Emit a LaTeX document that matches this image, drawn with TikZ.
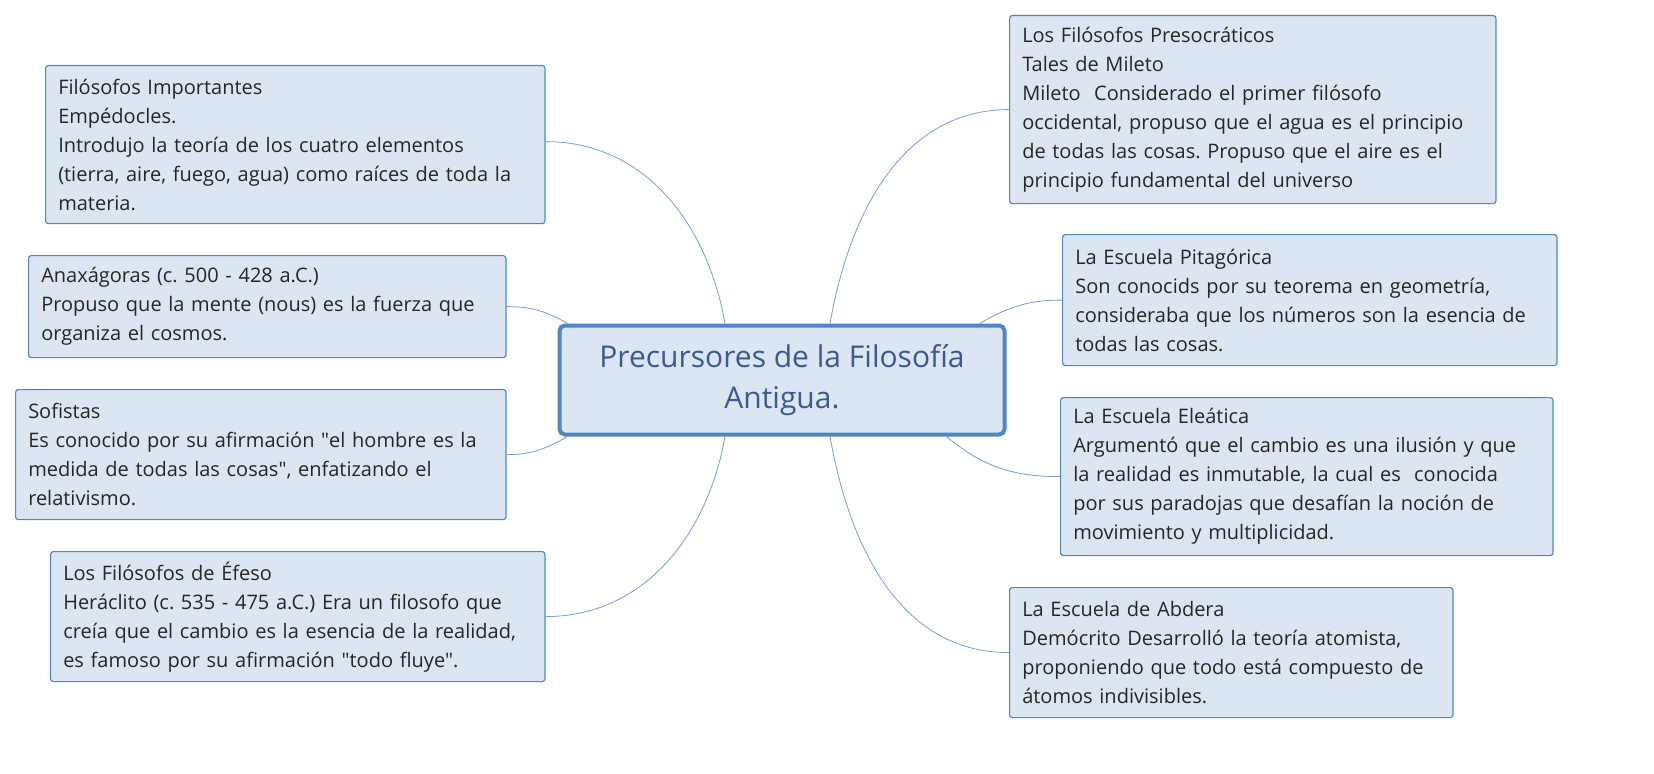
\documentclass[tikz,border=0pt]{standalone}
\usepackage{fontspec}
\setmainfont{Open Sans}
\usetikzlibrary{calc}
\definecolor{bfill}{HTML}{DCE6F2}
\definecolor{bline}{HTML}{4F86C6}
\definecolor{ttl}{HTML}{3B5A93}
\frenchspacing
\newcommand\qq{\textquotedbl}
\begin{document}
\begin{tikzpicture}[x=0.75pt,y=-0.75pt,
  box/.style={draw=bline,fill=bfill,rounded corners=2pt,line width=0.9pt,anchor=north west,
    inner xsep=9.5pt,inner ysep=4pt,align=left,font=\fontsize{15}{21.75}\selectfont,text=black!85},
  link/.style={draw=bline!80,line width=0.6pt}]
\useasboundingbox (0,0) rectangle (1654,774);
\node[box,minimum width=495*0.75pt,minimum height=158*0.75pt,text width=474*0.75pt] (b1) at (45,65)
 {Filósofos Importantes\\Empédocles.\\Introdujo la teoría de los cuatro elementos\\(tierra, aire, fuego, agua) como raíces de toda la\\materia.};
\node[box,minimum width=473*0.75pt,minimum height=102*0.75pt,text width=452*0.75pt] (b2) at (28,255)
 {Anaxágoras (c. 500 - 428 a.C.)\\Propuso que la mente (nous) es la fuerza que\\organiza el cosmos.};
\node[box,minimum width=486*0.75pt,minimum height=130*0.75pt,text width=465*0.75pt] (b3) at (15,389)
 {Sofistas\\Es conocido por su afirmación \qq el hombre es la\\medida de todas las cosas\qq, enfatizando el\\relativismo.};
\node[box,minimum width=490*0.75pt,minimum height=130*0.75pt,text width=469*0.75pt] (b4) at (50,551)
 {Los Filósofos de Éfeso\\Heráclito (c. 535 - 475 a.C.) Era un filosofo que\\creía que el cambio es la esencia de la realidad,\\es famoso por su afirmación \qq todo fluye\qq.};
\node[box,minimum width=482*0.75pt,minimum height=188*0.75pt,text width=461*0.75pt] (b5) at (1009,15)
 {Los Filósofos Presocráticos\\Tales de Mileto\\Mileto~ Considerado el primer filósofo\\occidental, propuso que el agua es el principio\\de todas las cosas. Propuso que el aire es el\\principio fundamental del universo};
\node[box,minimum width=490*0.75pt,minimum height=131*0.75pt,text width=469*0.75pt] (b6) at (1062,234)
 {La Escuela Pitagórica\\Son conocids por su teorema en geometría,\\consideraba que los números son la esencia de\\todas las cosas.};
\node[box,minimum width=488*0.75pt,minimum height=158*0.75pt,text width=467*0.75pt] (b7) at (1060,397)
 {La Escuela Eleática\\Argumentó que el cambio es una ilusión y que\\la realidad es inmutable, la cual es~ conocida\\por sus paradojas que desafían la noción de\\movimiento y multiplicidad.};
\node[box,minimum width=439*0.75pt,minimum height=130*0.75pt,text width=418*0.75pt] (b8) at (1009,587)
 {La Escuela de Abdera\\Demócrito Desarrolló la teoría atomista,\\proponiendo que todo está compuesto de\\átomos indivisibles.};
\node[draw=bline,fill=bfill,rounded corners=4pt,line width=3pt,minimum width=445*0.75pt,minimum height=109*0.75pt,
  align=center,text=ttl,font=\fontsize{22.5}{31}\selectfont] (c) at (782,380)
 {Precursores de la Filosofía\\Antigua.};
\path[link] ($(c.north)+(-57,0)$) to[out=100,in=0] ($(b1.east)+(0,-3)$);
\path[link] ($(c.north west)+(10,0)$) to[out=150,in=0] ($(b2.east)+(0,0)$);
\path[link] ($(c.south west)+(10,0)$) to[out=210,in=0] ($(b3.east)+(0,0)$);
\path[link] ($(c.south)+(-57,0)$) to[out=260,in=0] ($(b4.east)+(0,0)$);
\path[link] ($(c.north)+(48,0)$) to[out=80,in=180] ($(b5.west)+(0,0)$);
\path[link] ($(c.north east)+(-27,0)$) to[out=30,in=180] ($(b6.west)+(0,0)$);
\path[link] ($(c.south east)+(-60,0)$) to[out=-40,in=180] ($(b7.west)+(0,0)$);
\path[link] ($(c.south)+(48,0)$) to[out=-80,in=180] ($(b8.west)+(0,0)$);
\end{tikzpicture}
\end{document}
